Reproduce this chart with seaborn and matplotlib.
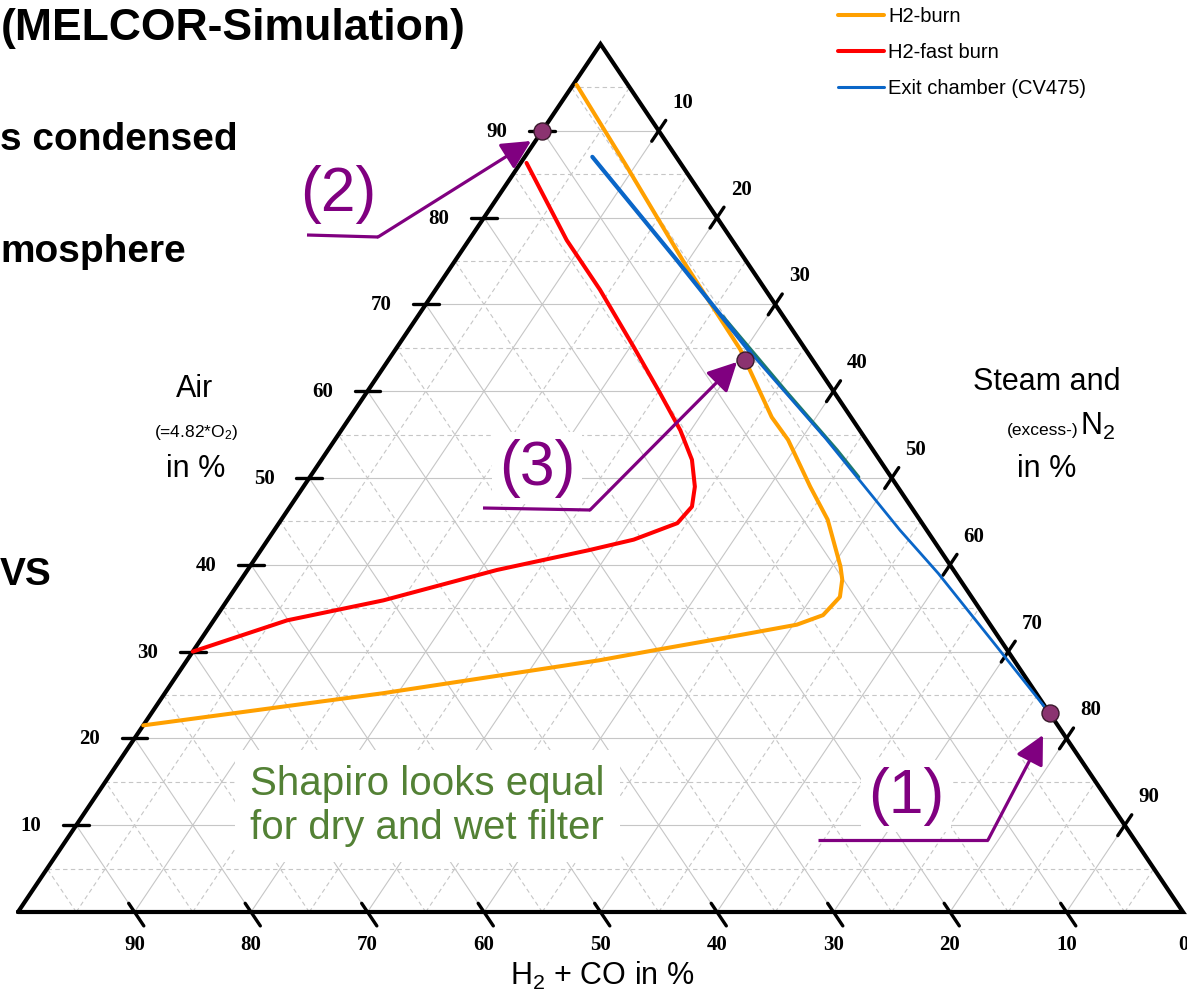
import numpy as np
import pandas as pd
import matplotlib
matplotlib.use("Agg")
import matplotlib.pyplot as plt
from matplotlib.lines import Line2D
import seaborn as sns

# ---------------- data: ternary compositions in % -----------------
# Air %, Steam(+excess N2) %   ;   H2+CO % = 100 - Air - Steam
h2_burn_air   = [95.3, 85.9, 75.1, 64.8, 57.0, 54.4, 49.0, 45.2, 39.8, 38.3, 36.3, 34.2, 33.1, 31.9, 30.2, 29.0, 25.2, 21.5]
h2_burn_steam = [0.3, 9.3, 19.5, 29.6, 36.2, 38.9, 43.5, 46.9, 50.7, 51.6, 52.4, 52.0, 50.3, 46.0, 39.7, 35.4, 18.7, 0.0]

h2_fast_air   = [86.3, 77.4, 71.7, 65.1, 59.8, 55.5, 52.1, 49.0, 46.7, 44.8, 42.9, 41.7, 39.4, 35.9, 33.6, 30.0]
h2_fast_steam = [0.5, 8.4, 14.1, 20.3, 25.2, 29.1, 31.8, 33.6, 34.5, 34.2, 31.4, 28.2, 21.4, 13.4, 6.3, 0.0]

exit_air   = [87.0, 75.1, 64.5, 54.6, 44.0, 39.0, 30.6, 22.9]
exit_steam = [5.8, 19.0, 30.6, 42.0, 53.7, 59.5, 68.7, 77.1]

exit_upper_air   = [87.0, 75.1, 64.5]
exit_upper_steam = [5.8, 19.0, 30.6]

exit_wet_air   = [68.6, 60.0, 53.2, 50.1]
exit_wet_steam = [26.2, 35.9, 43.7, 47.1]

point_labels = ["(1)", "(2)", "(3)"]
point_air    = [22.9, 90.0, 63.6]
point_steam  = [77.1, 0.0, 30.6]

grid_levels = list(range(5, 100, 5))
tick_levels = list(range(10, 100, 10))
bottom_tick_labels = ["90", "80", "70", "60", "50", "40", "30", "20", "10", "0"]

legend_labels = ["H2-burn", "H2-fast burn", "Exit chamber (CV475)"]

# ---------------- figure / coordinate frame ----------------
sns.set_theme(style="white")
plt.rcParams["font.family"] = ["Liberation Sans", "DejaVu Sans"]
plt.rcParams["mathtext.default"] = "regular"
plt.rcParams["text.color"] = "black"

W, H = 1187, 991
fig = plt.figure(figsize=(W / 100, H / 100), dpi=100)
ax = fig.add_axes([0, 0, 1, 1])
X0, X1 = 18.0, 1183.0
Y0, Y1 = 912.0, 44.0
sx = (X1 - X0) / 100.0
sy = (Y0 - Y1) / 100.0
ax.set_xlim((0 - X0) / sx, (W - X0) / sx)
ax.set_ylim((Y0 - H) / sy, (Y0 - 0) / sy)
ax.axis("off")


def tern(air, steam):
    air = np.asarray(air, float)
    steam = np.asarray(steam, float)
    return steam + air / 2.0, air


def px(x, y):
    return (x - X0) / sx, (Y0 - y) / sy


def T(x, y, s, **kw):
    return fig.text(x / W, 1 - y / H, s, **kw)


PURPLE = "#800080"
GRID = "#c6c6c6"

# ---------------- grid ----------------
for k in grid_levels:
    ls = "-" if k % 10 == 0 else (0, (4, 3))
    kw = dict(color=GRID, lw=0.8, ls=ls, zorder=1)
    for a_s in ([(k, 0), (k, 100 - k)], [(0, k), (100 - k, k)], [(0, 100 - k), (100 - k, 0)]):
        xx, yy = tern([p[0] for p in a_s], [p[1] for p in a_s])
        ax.plot(xx, yy, **kw)

# ---------------- triangle frame ----------------
fx, fy = tern([0, 0, 100, 0], [0, 100, 0, 0])
ax.plot(fx, fy, color="black", lw=3.0, zorder=3, solid_joinstyle="miter")

# ticks
for k in tick_levels:
    xx, yy = tern([1.0, -1.6], [100 - k - 1.0, 100 - k + 1.6])
    ax.plot(xx, yy, color="black", lw=2.4, zorder=3)
    xx, yy = tern([k, k], [-1.1, 1.1])
    ax.plot(xx, yy, color="black", lw=2.4, zorder=3)
    xx, yy = tern([100 - k - 1.2, 100 - k + 1.2], [k, k])
    ax.plot(xx, yy, color="black", lw=2.4, zorder=3)

tick_font = dict(family=["Liberation Serif", "DejaVu Serif"], fontweight="bold", fontsize=15)
for lab in bottom_tick_labels:
    h2 = int(lab)
    xx, yy = tern(0, 100 - h2)
    ax.annotate(lab, (xx, yy), xytext=(0, -33), textcoords="offset pixels",
                ha="center", va="center", **tick_font)
for k in tick_levels:
    xx, yy = tern(k, 0)
    ax.annotate(str(k), (xx, yy), xytext=(-45, -1), textcoords="offset pixels",
                ha="center", va="center", **tick_font)
    xx, yy = tern(100 - k, k)
    ax.annotate(str(k), (xx, yy), xytext=(24, 28), textcoords="offset pixels",
                ha="center", va="center", **tick_font)

# ---------------- curves ----------------
def curve(air, steam, color, lw, z=4):
    xx, yy = tern(air, steam)
    df = pd.DataFrame({"x": xx, "y": yy})
    sns.lineplot(data=df, x="x", y="y", sort=False, estimator=None, color=color,
                 lw=lw, ax=ax, zorder=z, legend=False)


curve(exit_wet_air, exit_wet_steam, "#1f7a6a", 2.6, z=4)
curve(exit_air, exit_steam, "#0a66c8", 2.0, z=4.2)
curve(exit_upper_air, exit_upper_steam, "#0a66c8", 3.0, z=4.2)
curve(h2_burn_air, h2_burn_steam, "#ffa000", 2.9, z=4.1)
curve(h2_fast_air, h2_fast_steam, "#ff0000", 2.9, z=4.1)

# ---------------- labelled points ----------------
pxx, pyy = tern(point_air, point_steam)
sns.scatterplot(x=pxx, y=pyy, s=150, color="#8b3370", edgecolor="#3a1a2c",
                linewidth=1.0, zorder=7, ax=ax, legend=False)

# ---------------- annotation texts with white boxes ----------------
box = dict(facecolor="white", edgecolor="none", pad=5)
lab_pos = {"(1)": (906, 796), "(2)": (338, 194), "(3)": (537, 468)}
for lab in point_labels:
    x, y = px(*lab_pos[lab])
    ax.text(x, y, lab, color=PURPLE, fontsize=45, ha="center", va="center",
            zorder=2, bbox=box)

x, y = px(250, 806)
ax.text(x, y, "Shapiro looks equal\nfor dry and wet filter", color="#538135",
        fontsize=29, ha="left", va="center", linespacing=1.2, zorder=2,
        bbox=dict(facecolor="white", edgecolor="none", pad=11))

# ---------------- arrows ----------------
arrows = [
    [(307, 235), (378, 237), (531, 141)],
    [(483, 508), (590, 510), (737, 362)],
    [(818, 840), (988, 840), (1043, 735)],
]
for pts in arrows:
    xy = [px(*p) for p in pts]
    ax.plot([xy[0][0], xy[1][0]], [xy[0][1], xy[1][1]], color=PURPLE, lw=2.3,
            zorder=5, solid_capstyle="butt")
    ax.annotate("", xy=xy[2], xytext=xy[1],
                arrowprops=dict(arrowstyle="-|>,head_length=0.55,head_width=0.28",
                                color=PURPLE, lw=2.3, mutation_scale=32,
                                shrinkA=0, shrinkB=0), zorder=6)

# ---------------- axis titles ----------------
T(195, 397, "Air", fontsize=22, ha="center", va="baseline")
T(196, 432, "(=4.82*O$_2$)", fontsize=12.5, ha="center", va="center")
T(196, 477, "in %", fontsize=22, ha="center", va="baseline")

T(1047, 390, "Steam and", fontsize=22, ha="center", va="baseline")
T(1079, 435, "(excess-)", fontsize=12.5, ha="right", va="baseline")
T(1080, 435, "N$_2$", fontsize=22, ha="left", va="baseline")
T(1047, 477, "in %", fontsize=22, ha="center", va="baseline")

T(602, 985, "H$_2$ + CO in %", fontsize=22, ha="center", va="baseline")

# ---------------- slide text at the left ----------------
T(1, 40, "(MELCOR-Simulation)", fontsize=32, fontweight="bold", ha="left", va="baseline")
T(0, 150, "s condensed", fontsize=28, fontweight="bold", ha="left", va="baseline")
T(0, 262, "mosphere", fontsize=28, fontweight="bold", ha="left", va="baseline")
T(0, 585, "VS", fontsize=28, fontweight="bold", ha="left", va="baseline")

# ---------------- legend ----------------
handles = [Line2D([], [], color="#ffa000", lw=2.9),
           Line2D([], [], color="#ff0000", lw=2.9),
           Line2D([], [], color="#0a66c8", lw=2.2)]
ax.legend(handles, legend_labels, loc="upper left",
          bbox_to_anchor=(838 / W, 1 - 7 / H), bbox_transform=fig.transFigure,
          frameon=False, borderpad=0, borderaxespad=0, handlelength=2.3,
          handletextpad=0.2, labelspacing=0.85, fontsize=14.5, labelcolor="black")

fig.savefig("out.png", dpi=100)
